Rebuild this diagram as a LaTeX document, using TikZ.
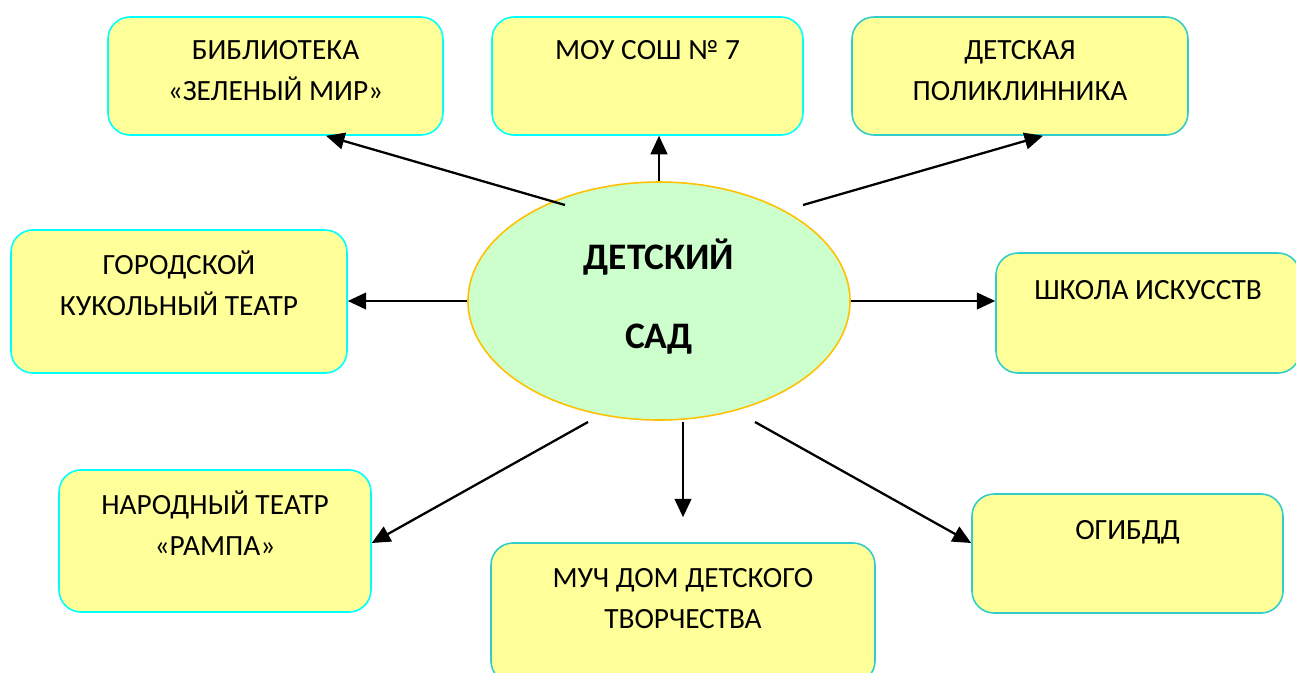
\documentclass[tikz,border=0pt]{standalone}
\usepackage{fontspec}
\setmainfont{Carlito}
\usepackage{tikz}
\usetikzlibrary{arrows.meta}
\usetikzlibrary{positioning}
\usetikzlibrary{shapes.geometric}

\definecolor{boxfill}{HTML}{FFFF99}
\definecolor{aqua}{HTML}{00FFFF}
\definecolor{teal2}{HTML}{33CCCC}
\definecolor{sadfill}{HTML}{CCFFCC}
\definecolor{sadline}{HTML}{FFC000}

\begin{document}
\begin{tikzpicture}[->,>={Triangle[length=10.5pt,width=9.5pt]},line width=1.3pt,
                    box/.style={rectangle,rounded corners=0.44cm,fill=boxfill,line width=0.9pt},
                    boxa/.style={box,draw=aqua},
                    boxb/.style={box,draw=teal2},
                    txt/.style={anchor=north,inner sep=0pt,align=center,text height=0.37cm,
                                font=\fontsize{16.7}{23.2}\selectfont},
                    txt2/.style={txt,text height=1.19cm}]

  \useasboundingbox (0,0) rectangle (25.92,-13.44);

  \node[ellipse,fill=sadfill,draw=sadline,line width=0.9pt,minimum width=7.64cm,
        minimum height=4.76cm] (sad) at (13.18,-6.02) {};
  \node[align=center,font=\fontsize{21.3}{44.8}\selectfont\bfseries] (sadtext)
        at ([yshift=0.09cm]sad.center) {ДЕТСКИЙ\\САД};

  \node[boxa,minimum width=6.70cm,minimum height=2.36cm] (lib) at (5.51,-1.52) {};
  \node[boxa,minimum width=6.22cm,minimum height=2.36cm] (mou) at (12.95,-1.52) {};
  \node[boxb,minimum width=6.72cm,minimum height=2.36cm] (pol) at (20.40,-1.52) {};
  \node[boxa,minimum width=6.72cm,minimum height=2.86cm] (gor) at (3.58,-6.03) {};
  \node[boxb,minimum width=6.08cm,minimum height=2.40cm] (shk) at (22.96,-6.26) {};
  \node[boxa,minimum width=6.24cm,minimum height=2.84cm] (nar) at (4.30,-10.82) {};
  \node[boxb,minimum width=7.68cm,minimum height=2.80cm] (duc) at (13.66,-12.26) {};
  \node[boxb,minimum width=6.22cm,minimum height=2.38cm] (gib) at (22.55,-11.07) {};

  \node[txt2,below=0.47cm of lib.north] (libtext) {БИБЛИОТЕКА\\«ЗЕЛЕНЫЙ МИР»};
  \node[txt,below=0.47cm of mou.north] (moutext) {МОУ СОШ № 7};
  \node[txt2,below=0.47cm of pol.north] (poltext) {ДЕТСКАЯ\\ПОЛИКЛИННИКА};
  \node[txt2,below=0.51cm of gor.north] (gortext) {ГОРОДСКОЙ\\КУКОЛЬНЫЙ ТЕАТР};
  \node[txt,below=0.55cm of shk.north] (shktext) {ШКОЛА ИСКУССТВ};
  \node[txt2,below=0.51cm of nar.north] (nartext) {НАРОДНЫЙ ТЕАТР\\«РАМПА»};
  \node[txt2,below=0.51cm of duc.north] (ductext) {МУЧ ДОМ ДЕТСКОГО\\ТВОРЧЕСТВА};
  \node[txt,below=0.53cm of gib.north] (gibtext) {ОГИБДД};

  % start points of the arrows
  \coordinate (s1) at (11.30,-4.10);
  \coordinate (s3) at (16.06,-4.10);
  \coordinate (s6) at (11.76,-8.44);
  \coordinate (s7) at (13.66,-8.44);
  \coordinate (s8) at (15.10,-8.44);

  \path[every node/.style={}]
    (s1) edge (lib.south -| 6.52,0)
    (sad.north) edge (sad.north |- mou.south)
    (s3) edge (pol.south -| 20.86,0)
    (sad.west) edge (sad.west -| gor.east)
    (sad.east) edge (sad.east -| shk.west)
    (s6) edge (nar.east |- 0,-10.86)
    (s7) edge ([yshift=0.5cm]duc.north)
    (s8) edge (gib.west |- 0,-10.86);
\end{tikzpicture}
\end{document}
